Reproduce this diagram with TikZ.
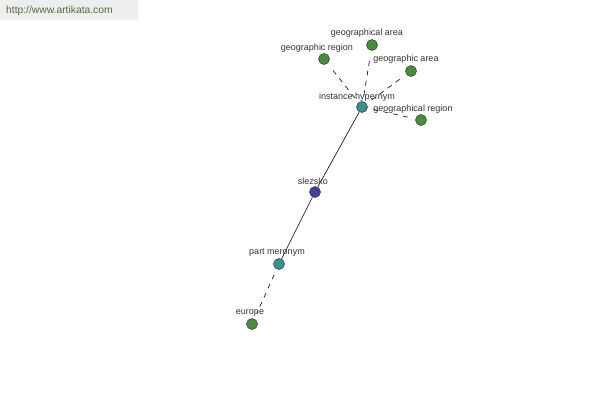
\documentclass[tikz,border=0pt]{standalone}
\usepackage{fontspec}
\setmainfont{Liberation Sans}
\definecolor{cgreen}{HTML}{4A8C3F}
\definecolor{cteal}{HTML}{3A8E8E}
\definecolor{cblue}{HTML}{42429A}
\definecolor{banner}{HTML}{EEEEEE}
\definecolor{urltext}{HTML}{4E6E40}
\definecolor{labtext}{HTML}{333333}
\begin{document}
\begin{tikzpicture}[x=1pt,y=-1pt,
  dot/.style={circle,draw=black!80,line width=0.5pt,minimum size=11pt,inner sep=0pt},
  lab/.style={font=\fontsize{9}{10}\selectfont,text=labtext,inner sep=0pt},
  solidedge/.style={draw=black,line width=0.6pt},
  dashedge/.style={draw=black,line width=0.6pt,dash pattern=on 5pt off 5pt,shorten <=6pt,shorten >=6pt}]
\useasboundingbox (0,0) rectangle (600,400);
\fill[white] (0,0) rectangle (600,400);
\node[fill=banner,minimum width=138pt,minimum height=20pt,anchor=north west,inner sep=0pt] (ban) at (0,0) {};
\node[font=\fontsize{10.3}{12}\selectfont,text=urltext,anchor=west,inner sep=0pt] (url) at (6,11) {http://www.artikata.com};
% nodes
\node[dot,fill=cblue] (sl) at (315,192) {};
\node[dot,fill=cteal] (ih) at (362,107) {};
\node[dot,fill=cteal] (pm) at (279,264) {};
\node[dot,fill=cgreen] (eu) at (252,324) {};
\node[dot,fill=cgreen] (gr1) at (324,59) {};
\node[dot,fill=cgreen] (ga1) at (372,45) {};
\node[dot,fill=cgreen] (ga2) at (411,71) {};
\node[dot,fill=cgreen] (gr2) at (421,120) {};
% edges
\draw[solidedge] (sl) -- (ih);
\draw[solidedge] (sl) -- (pm);
\draw[dashedge] (pm) -- (eu);
\draw[dashedge] (ih) -- (gr1);
\draw[dashedge] (ih) -- (ga1);
\draw[dashedge] (ih) -- (ga2);
\draw[dashedge] (ih) -- (gr2);
% labels
\node[lab] (lsl) at (313,181) {slezsko};
\node[lab] (lih) at (357,97) {instance hypernym};
\node[lab] (lpm) at (277,253) {part meronym};
\node[lab] (leu) at (250,313) {europe};
\node[lab] (lgr1) at (317,48) {geographic region};
\node[lab] (lga1) at (367,33) {geographical area};
\node[lab] (lga2) at (406,59) {geographic area};
\node[lab] (lgr2) at (413,109) {geographical region};
\end{tikzpicture}
\end{document}
